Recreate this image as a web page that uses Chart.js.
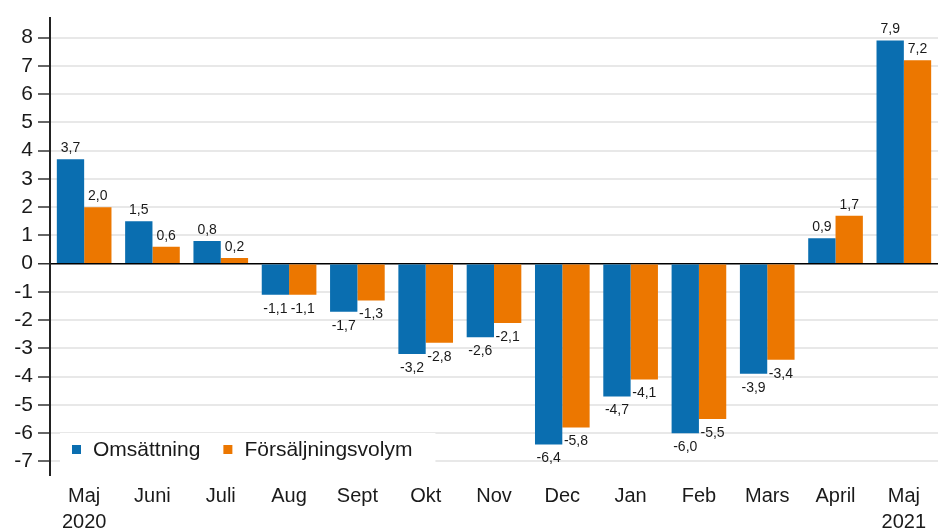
<!DOCTYPE html>
<html>
<head>
<meta charset="utf-8">
<script src="https://cdn.jsdelivr.net/npm/chart.js@4/dist/chart.umd.min.js"></script>
<style>
  body { margin: 0; background: #fff; }
  #wrap { width: 938px; height: 530px; }
</style>
</head>
<body>
<div id="wrap"><canvas id="chart"></canvas></div>
<script>
  // Månader (x-axel)
  const manader = [['Maj', '2020'], 'Juni', 'Juli', 'Aug', 'Sept', 'Okt', 'Nov', 'Dec', 'Jan', 'Feb', 'Mars', 'April', ['Maj', '2021']];

  // Förändring i procent
  const omsattning = [3.7, 1.5, 0.8, -1.1, -1.7, -3.2, -2.6, -6.4, -4.7, -6.0, -3.9, 0.9, 7.9];
  const volym = [2.0, 0.6, 0.2, -1.1, -1.3, -2.8, -2.1, -5.8, -4.1, -5.5, -3.4, 1.7, 7.2];

  const yTicks = [-7, -6, -5, -4, -3, -2, -1, 0, 1, 2, 3, 4, 5, 6, 7, 8];

  const fontFamily = '"Liberation Sans", Arial, sans-serif';

  // Värden ovanför / under staplarna
  const vardePlugin = {
    id: 'varden',
    afterDatasetsDraw(chart) {
      const c = chart.ctx;
      c.save();
      c.font = '14px ' + fontFamily;
      c.fillStyle = '#1a1a1a';
      c.textAlign = 'center';
      chart.data.datasets.forEach((ds, di) => {
        const meta = chart.getDatasetMeta(di);
        meta.data.forEach((bar, i) => {
          const v = ds.data[i];
          const txt = v.toFixed(1).replace('.', ',');
          if (v >= 0) {
            c.textBaseline = 'bottom';
            c.fillText(txt, bar.x, bar.y - 4);
          } else {
            c.textBaseline = 'top';
            c.fillText(txt, bar.x, bar.y + 7);
          }
        });
      });
      c.restore();
    }
  };

  // Förklaring inne i diagrammet, nere till vänster
  const forklaringPlugin = {
    id: 'forklaring',
    afterDraw(chart) {
      const c = chart.ctx;
      const area = chart.chartArea;
      const y = 450;
      c.save();
      c.font = '21px ' + fontFamily;
      let w = 22;
      chart.data.datasets.forEach(ds => { w += 21 + c.measureText(ds.label).width + 23; });
      c.fillStyle = '#fff';
      c.fillRect(area.left + 10, y - 17, w - 10, 34);
      c.textBaseline = 'middle';
      c.textAlign = 'left';
      let x = area.left + 22;
      chart.data.datasets.forEach(ds => {
        c.fillStyle = ds.backgroundColor;
        c.fillRect(x, y - 5, 9, 9);
        c.fillStyle = '#1a1a1a';
        c.fillText(ds.label, x + 21, y);
        x += 21 + c.measureText(ds.label).width + 23;
      });
      c.restore();
    }
  };

  const ctx = document.getElementById('chart').getContext('2d');
  new Chart(ctx, {
    type: 'bar',
    data: {
      labels: manader,
      datasets: [
        { label: 'Omsättning', data: omsattning, backgroundColor: '#0a6eb0' },
        { label: 'Försäljningsvolym', data: volym, backgroundColor: '#ec7700' }
      ]
    },
    options: {
      responsive: true,
      maintainAspectRatio: false,
      animation: false,
      layout: { padding: { top: 13, right: 0, left: 0, bottom: 0 } },
      datasets: {
        bar: { categoryPercentage: 0.8, barPercentage: 1.0 }
      },
      plugins: {
        legend: { display: false },
        tooltip: { enabled: false }
      },
      scales: {
        x: {
          grid: { display: false, drawTicks: false },
          border: { display: false },
          ticks: {
            color: '#1a1a1a',
            font: { family: fontFamily, size: 20, lineHeight: 1.3 },
            padding: 8,
            maxRotation: 0,
            autoSkip: false
          },
          afterFit(scale) { scale.height = 55; }
        },
        y: {
          min: -7.48,
          max: 8.71,
          afterBuildTicks(scale) {
            scale.ticks = yTicks.map(v => ({ value: v }));
          },
          grid: {
            color: c => (c.tick && c.tick.value === 0 ? '#000' : '#e8e8e8'),
            lineWidth: c => (c.tick && c.tick.value === 0 ? 1.5 : 2),
            tickColor: '#333',
            tickLength: 12,
            tickWidth: 1.5
          },
          border: { color: '#222', width: 2 },
          ticks: {
            color: '#1a1a1a',
            font: { family: fontFamily, size: 21 },
            padding: 5
          },
          afterFit(scale) { scale.width = 50; }
        }
      }
    },
    plugins: [vardePlugin, forklaringPlugin]
  });
</script>
</body>
</html>
